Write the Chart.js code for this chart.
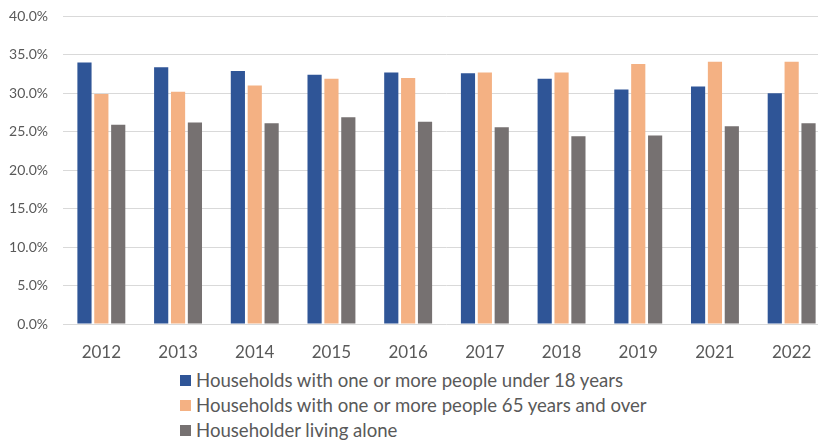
<!DOCTYPE html>
<html>
<head>
<meta charset="utf-8">
<script src="https://cdn.jsdelivr.net/npm/chart.js@4"></script>
<style>
  html, body { margin: 0; padding: 0; background: #fff; overflow: hidden; width: 818px; height: 443px; }
  #wrap { position: absolute; left: 0; top: -7px; width: 830px; height: 375px; }
  #legend { position: absolute; left: 180px; top: 370px; font-family: Lato, "Liberation Sans", sans-serif; font-size: 18.6px; color: #595959; }
  #legend div { height: 25px; line-height: 20px; white-space: nowrap; }
  #legend span.box { display: inline-block; width: 11px; height: 11px; margin-right: 5px; vertical-align: 1px; }
</style>
</head>
<body>
<div id="wrap"><canvas id="chart"></canvas></div>
<div id="legend"></div>
<script>
/* -------------------------
   DATA
------------------------- */
const years = ["2012", "2013", "2014", "2015", "2016", "2017", "2018", "2019", "2021", "2022"];
const under18 = [34.0, 33.4, 32.9, 32.4, 32.7, 32.6, 31.9, 30.5, 30.9, 30.0];
const over65 = [29.9, 30.2, 31.0, 31.9, 32.0, 32.7, 32.7, 33.8, 34.1, 34.1];
const livingAlone = [25.9, 26.2, 26.1, 26.9, 26.3, 25.6, 24.4, 24.5, 25.7, 26.1];
const seriesNames = [
  "Households with one or more people under 18 years",
  "Households with one or more people 65 years and over",
  "Householder living alone"
];
const yTicks = [0, 5, 10, 15, 20, 25, 30, 35, 40];

const colors = ["#2F5597", "#F4B183", "#767171"];
const textColor = "#595959";
const font = "Lato, 'Liberation Sans', sans-serif";

/* -------------------------
   CHART
------------------------- */
const ctx = document.getElementById("chart").getContext("2d");

const chart = new Chart(ctx, {
  type: "bar",
  data: {
    labels: years,
    datasets: [under18, over65, livingAlone].map((vals, i) => ({
      label: seriesNames[i],
      data: vals,
      backgroundColor: colors[i],
      barPercentage: 0.84,
      categoryPercentage: 0.66
    }))
  },
  options: {
    responsive: true,
    maintainAspectRatio: false,
    animation: false,
    layout: { padding: { top: 1, right: 0, left: 0, bottom: 0 } },
    plugins: {
      legend: { display: false },
      tooltip: { enabled: false }
    },
    scales: {
      x: {
        grid: { display: false, drawTicks: false },
        border: { display: false },
        ticks: { color: textColor, font: { family: font, size: 17 }, padding: 18 },
        afterFit: s => { s.height = 44; }
      },
      y: {
        min: 0,
        max: 40,
        afterBuildTicks: s => { s.ticks = yTicks.map(v => ({ value: v })); },
        grid: { color: "#d9d9d9", lineWidth: 1, drawTicks: false },
        border: { display: false },
        ticks: {
          color: textColor,
          font: { family: font, size: 14 },
          padding: 15,
          callback: v => v.toFixed(1) + "%"
        },
        afterFit: s => { s.width = 63; }
      }
    }
  }
});

/* -------------------------
   LEGEND (vertical, like the original)
------------------------- */
const legend = document.getElementById("legend");
chart.data.datasets.forEach(ds => {
  const row = document.createElement("div");
  row.innerHTML = `<span class="box" style="background:${ds.backgroundColor}"></span>${ds.label}`;
  legend.appendChild(row);
});
</script>
</body>
</html>
